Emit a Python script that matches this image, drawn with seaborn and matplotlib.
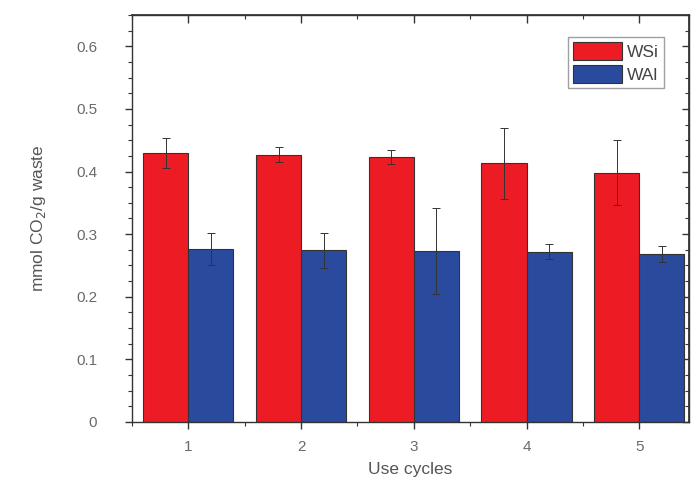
import numpy as np
import pandas as pd
import matplotlib
matplotlib.use("Agg")
import matplotlib.pyplot as plt
import seaborn as sns
from matplotlib.ticker import MultipleLocator, NullFormatter

cycles = ["1", "2", "3", "4", "5"]
wsi_vals = [0.429, 0.427, 0.423, 0.413, 0.398]
wsi_err = [0.024, 0.012, 0.011, 0.057, 0.052]
wai_vals = [0.276, 0.274, 0.273, 0.272, 0.268]
wai_err = [0.025, 0.028, 0.069, 0.012, 0.013]
series = ["WSi", "WAl"]
colors = ["#ED1C24", "#2A4A9E"]
ytick_vals = [0, 0.1, 0.2, 0.3, 0.4, 0.5, 0.6]
ytick_labels = ["0", "0.1", "0.2", "0.3", "0.4", "0.5", "0.6"]

df = pd.DataFrame({
    "cycle": cycles * 2,
    "value": wsi_vals + wai_vals,
    "series": [series[0]] * 5 + [series[1]] * 5,
})

sns.set_theme(style="ticks")
plt.rcParams["font.family"] = ["Liberation Sans", "DejaVu Sans"]

fig = plt.figure(figsize=(6.91, 4.86), dpi=100)
ax = fig.add_axes([0.191, 0.132, 0.806, 0.837])

sns.barplot(data=df, x="cycle", y="value", hue="series", palette=colors,
            errorbar=None, width=0.8, edgecolor="#333333", linewidth=0.8,
            saturation=1, ax=ax)

for cont, errs in zip(ax.containers, [wsi_err, wai_err]):
    xs = [p.get_x() + p.get_width() / 2 for p in cont.patches]
    hs = [p.get_height() for p in cont.patches]
    ax.errorbar(xs, hs, yerr=errs, fmt="none", ecolor="#333333",
                elinewidth=0.7, capsize=3, capthick=0.7, zorder=5)

ax.set_xlim(-0.5, 4.44)
ax.set_ylim(0, 0.65)
ax.yaxis.set_minor_locator(MultipleLocator(0.025))
ax.xaxis.set_minor_locator(MultipleLocator(0.5))
ax.set_yticks(ytick_vals)
ax.set_yticklabels(ytick_labels)

for s in ax.spines.values():
    s.set_color("#333333")
    s.set_linewidth(1.0)

ax.tick_params(axis="both", which="major", direction="out", length=5, width=1,
               color="#333333", labelsize=11, labelcolor="#6a6a6a")
ax.tick_params(axis="both", which="minor", direction="out", length=3, width=0.8,
               color="#333333")
ax.tick_params(top=False, right=False, bottom=True, left=True, which="both")
ax.tick_params(axis="x", which="major", pad=8)
ax.tick_params(axis="y", which="major", pad=20)

# mirrored inward ticks on top and right
top = ax.secondary_xaxis("top")
top.set_xticks(range(len(cycles)))
top.xaxis.set_minor_locator(MultipleLocator(0.5))
top.xaxis.set_major_formatter(NullFormatter())
top.tick_params(which="major", direction="in", length=6, width=1, color="#333333")
top.tick_params(which="minor", direction="in", length=3, width=0.8, color="#333333")
top.spines["top"].set_color("#333333")

right = ax.secondary_yaxis("right")
right.set_yticks(ytick_vals)
right.yaxis.set_minor_locator(MultipleLocator(0.025))
right.yaxis.set_major_formatter(NullFormatter())
right.tick_params(which="major", direction="in", length=5, width=1, color="#333333")
right.tick_params(which="minor", direction="in", length=3, width=0.8, color="#333333")
right.spines["right"].set_color("#333333")

ax.set_xlabel("Use cycles", fontsize=12.5, color="#555555", labelpad=6)
ax.set_ylabel("mmol CO$_2$/g waste", fontsize=12.5, color="#555555", labelpad=20)

leg = ax.legend(loc="upper right", bbox_to_anchor=(0.955, 0.946), fontsize=12.5,
                frameon=True, fancybox=False, edgecolor="#888888",
                handlelength=2.8, handleheight=1.2, labelspacing=0.3,
                handletextpad=0.3, borderpad=0.3, borderaxespad=0)
for t in leg.get_texts():
    t.set_color("#444444")

fig.savefig("out.png", dpi=100)
